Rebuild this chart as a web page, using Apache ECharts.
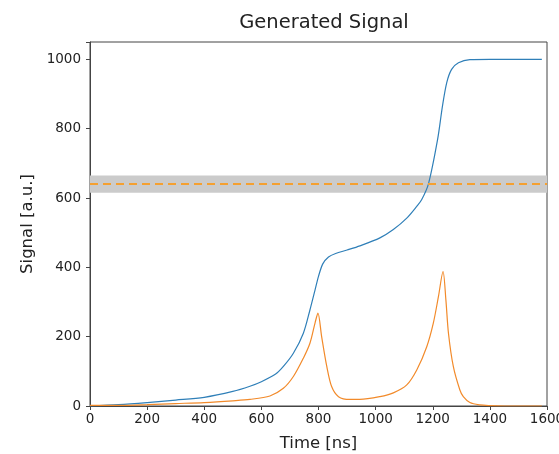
<!DOCTYPE html>
<html>
<head>
<meta charset="utf-8">
<script src="https://cdn.jsdelivr.net/npm/echarts@6/dist/echarts.min.js"></script>
<style>
  html, body { margin: 0; padding: 0; background: #fff; }
  #chart { width: 559px; height: 454px; }
</style>
</head>
<body>
<div id="chart"></div>
<script>
// Cumulative (normalised) signal over time
const cumTime = [0, 100, 200, 300, 400, 500, 560, 600, 650, 677, 712, 747, 770, 788, 800, 815, 835, 860, 900, 945, 1015, 1062, 1109, 1144, 1161, 1185, 1217, 1234, 1249, 1266, 1290, 1330, 1400, 1500, 1582];
const cumValue = [0, 4, 10, 17, 25, 42, 57, 70, 92, 114, 152, 210, 277, 335, 374, 410, 430, 440, 450, 462, 485, 509, 542, 576, 595, 641, 769, 865, 933, 971, 990, 999, 1000, 1000, 1000];

// Raw pulse signal
const pulseTime = [0, 100, 200, 300, 400, 500, 560, 630, 677, 712, 747, 770, 788, 798, 811, 829, 846, 870, 910, 945, 1015, 1062, 1109, 1144, 1179, 1202, 1220, 1236, 1246, 1255, 1272, 1295, 1307, 1330, 1365, 1400, 1450, 1582];
const pulseValue = [2, 2, 4, 7, 10, 15, 19, 29, 51, 85, 138, 181, 240, 268, 200, 114, 56, 27, 19, 19, 27, 38, 61, 104, 171, 239, 316, 388, 306, 210, 114, 46, 27, 10, 3, 1, 0, 0];

// Threshold level and its tolerance band
const threshold = 640;
const bandLow = 615;
const bandHigh = 665;

const xTicks = { min: 0, max: 1600, step: 200 };
const yTicks = { min: 0, max: 1050, step: 200 };

const pairs = (xs, ys) => xs.map((x, i) => [x, ys[i]]);

const font = 'DejaVu Sans';
const chart = echarts.init(document.getElementById('chart'), null, { renderer: 'canvas' });

chart.setOption({
  animation: false,
  backgroundColor: '#ffffff',
  title: {
    text: 'Generated Signal',
    left: 319,
    top: 8,
    textAlign: 'center',
    textStyle: { fontFamily: font, fontSize: 19.5, fontWeight: 'normal', color: '#222' }
  },
  grid: {
    left: 90, right: 12, top: 42, bottom: 48,
    containLabel: false,
    outerBoundsMode: 'none',
    show: true, borderColor: '#444', borderWidth: 1, backgroundColor: 'transparent'
  },
  xAxis: {
    type: 'value',
    min: xTicks.min, max: xTicks.max, interval: xTicks.step,
    name: 'Time [ns]', nameLocation: 'middle', nameGap: 29,
    nameTextStyle: { fontFamily: font, fontSize: 16.5, color: '#222' },
    axisLine: { show: true, lineStyle: { color: '#444', width: 1 } },
    axisTick: { show: true, length: 4, lineStyle: { color: '#444' } },
    axisLabel: { fontFamily: font, fontSize: 13.5, color: '#222', margin: 6,
      formatter: v => String(v), hideOverlap: false },
    splitLine: { show: false }
  },
  yAxis: {
    type: 'value',
    min: yTicks.min, max: yTicks.max, interval: yTicks.step,
    name: 'Signal [a.u.]', nameLocation: 'middle', nameGap: 52,
    nameTextStyle: { fontFamily: font, fontSize: 16.5, color: '#222' },
    axisLine: { show: true, lineStyle: { color: '#444', width: 1 } },
    axisTick: { show: true, length: 4, lineStyle: { color: '#444' } },
    axisLabel: { fontFamily: font, fontSize: 13.5, color: '#222', margin: 9,
      formatter: v => (v % 200 === 0 ? String(v) : '') },
    splitLine: { show: false }
  },
  series: [
    {
      name: 'cumulative',
      type: 'line',
      data: pairs(cumTime, cumValue),
      smooth: 0.3,
      showSymbol: false,
      lineStyle: { color: '#2f7fb8', width: 1.2 },
      z: 3,
      markArea: {
        silent: true,
        itemStyle: { color: '#cbcbcb' },
        data: [[{ yAxis: bandLow }, { yAxis: bandHigh }]]
      }
    },
    {
      name: 'pulse',
      type: 'line',
      data: pairs(pulseTime, pulseValue),
      smooth: 0.3,
      showSymbol: false,
      lineStyle: { color: '#f28a2a', width: 1.2 },
      z: 3,
      markLine: {
        silent: true,
        symbol: 'none',
        label: { show: false },
        lineStyle: { color: '#f5a030', type: [8, 5], width: 2 },
        data: [{ yAxis: threshold }]
      }
    }
  ]
});
</script>
</body>
</html>
